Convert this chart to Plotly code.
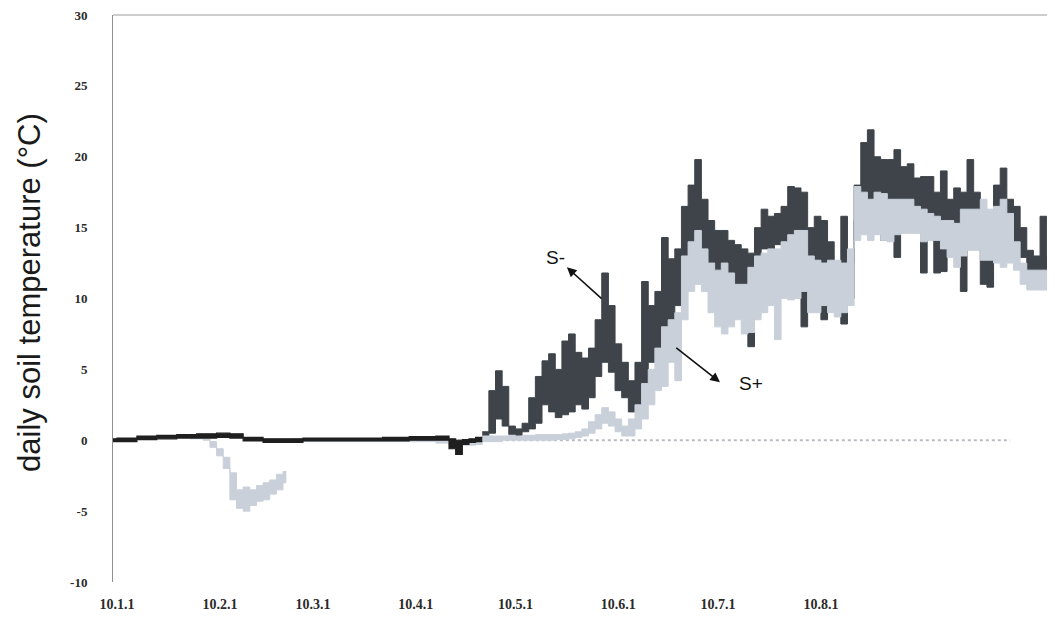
import pandas as pd
import plotly.graph_objects as go

BASE = pd.Timestamp("2010-01-01")

# ---- tick labels ----
tick_days = [0, 31, 59, 90, 120, 151, 181, 212]
tick_text = ["10.1.1", "10.2.1", "10.3.1", "10.4.1", "10.5.1", "10.6.1", "10.7.1", "10.8.1"]
y_ticks = [-10, -5, 0, 5, 10, 15, 20, 25, 30]

# ---- S- (no snow) : day offset, daily low, daily high ----
sm_day = [-2, 0, 6, 12, 18, 24, 30, 34, 38, 44, 50, 56, 64, 72, 80, 88, 96, 100, 102, 104, 106, 108,
          110, 112, 114, 116, 118, 120, 122, 124, 126, 128, 130, 132, 134, 136, 138, 140, 142, 144,
          146, 148, 150, 152, 154, 156, 158, 160, 162, 164, 166, 168, 170, 172, 174, 176, 178, 180,
          182, 184, 186, 188, 190, 192, 194, 196, 198, 200, 202, 204, 206, 208, 210, 212, 214, 216,
          218, 220, 222, 224, 226, 228, 230, 232, 234, 236, 238, 240, 242, 244, 246, 248, 250, 252,
          254, 256, 258, 260, 262, 264, 266, 268, 270, 272, 274, 276, 278, 280, 282]
sm_lo = [-0.1, -0.1, 0.05, 0.1, 0.15, 0.15, 0.2, 0.15, -0.05, -0.15, -0.15, -0.05, -0.05, -0.05, -0.05, 0.0, 0.0, -0.6, -1.0, -0.3, -0.15, -0.1,
         0.1, 0.5, 1.5, 1.0, 0.4, 0.3, 0.6, 0.8, 1.2, 2.5, 2.0, 1.6, 1.8, 2.0, 2.5, 2.2, 3.0, 4.5,
         5.5, 4.8, 3.5, 3.0, 2.0, 2.2, 4.0, 5.5, 6.5, 8.0, 8.5, 9.5, 13.0, 14.0, 14.5, 13.5, 12.5, 11.5,
         11.8, 11.5, 11.0, 10.8, 6.6, 13.0, 13.5, 13.5, 13.8, 14.0, 14.0, 14.5, 8.0, 13.0, 12.7, 8.5, 12.5, 11.0,
         8.2, 10.0, 15.5, 16.0, 17.0, 17.5, 14.1, 17.0, 12.9, 16.5, 16.5, 16.0, 11.8, 15.5, 11.8, 11.9, 15.5, 14.0,
         10.5, 16.0, 15.5, 11.0, 10.8, 15.5, 15.0, 12.9, 13.0, 12.9, 11.3, 11.3, 11.5, 11.3, 11.5]
sm_hi = [0.1, 0.15, 0.3, 0.35, 0.4, 0.45, 0.5, 0.45, 0.2, 0.1, 0.1, 0.15, 0.15, 0.15, 0.2, 0.25, 0.3, 0.1, 0.0, 0.05, 0.1, 0.2,
         0.6, 3.5, 4.9, 3.8, 1.0, 0.8, 1.2, 3.0, 4.5, 5.6, 6.1, 5.0, 7.0, 7.5, 6.2, 5.8, 6.5, 8.5,
         11.8, 9.5, 6.8, 5.5, 4.2, 5.5, 11.2, 9.5, 10.5, 14.3, 12.8, 13.5, 16.5, 18.0, 19.8, 17.0, 15.5, 14.8,
         14.8, 14.1, 13.8, 13.5, 13.2, 15.0, 16.3, 15.8, 16.0, 16.5, 17.9, 17.8, 17.5, 15.0, 15.8, 15.5, 14.0, 12.5,
         15.8, 12.5, 18.0, 21.0, 21.9, 20.0, 19.8, 19.8, 20.5, 19.3, 19.5, 18.5, 18.6, 18.6, 17.5, 19.0, 17.0, 17.8,
         17.5, 19.8, 17.5, 14.0, 13.5, 18.0, 19.2, 17.0, 16.5, 15.0, 13.4, 13.0, 15.8, 13.0, 12.8]

# ---- S+ (snow) : day offset, daily low, daily high ----
sp_day = [22, 26, 28, 30, 32, 34, 36, 38, 40, 42, 44, 46, 48, 50, 52, 60, 80, 96, 100, 104, 108,
          110, 112, 114, 116, 118, 120, 122, 124, 126, 128, 130, 132, 134, 136, 138, 140, 142, 144,
          146, 148, 150, 152, 154, 156, 158, 160, 162, 164, 166, 168, 170, 172, 174, 176, 178, 180,
          182, 184, 186, 188, 190, 192, 194, 196, 198, 200, 202, 204, 206, 208, 210, 212, 214, 216,
          218, 220, 222, 224, 226, 228, 230, 232, 234, 236, 238, 240, 242, 244, 246, 248, 250, 252,
          254, 256, 258, 260, 262, 264, 266, 268, 270, 272, 274, 276, 278, 280, 282]
sp_lo = [0.1, 0.0, -0.5, -1.1, -2.0, -4.2, -4.8, -5.0, -4.6, -4.3, -4.2, -3.8, -3.5, -3.0, -0.1, -0.1, -0.1, -0.2, -0.4, -0.35, -0.3,
         -0.1, -0.1, -0.1, 0.0, 0.0, 0.0, 0.0, 0.0, 0.0, 0.0, 0.0, 0.05, 0.05, 0.1, 0.2, 0.3, 0.5, 0.8,
         1.2, 1.0, 0.6, 0.3, 0.3, 0.8, 1.5, 2.5, 3.5, 3.8, 5.5, 4.2, 8.5, 10.5, 11.0, 10.5, 9.0, 8.0,
         7.5, 8.0, 8.5, 7.5, 7.6, 8.5, 9.0, 9.5, 7.1, 10.0, 9.9, 10.0, 10.5, 9.0, 9.0, 9.5, 9.0, 8.7,
         9.0, 9.5, 14.1, 14.5, 14.1, 14.5, 14.1, 14.0, 14.5, 14.6, 14.6, 14.6, 14.0, 14.1, 14.1, 13.5, 12.9, 12.2,
         13.0, 13.4, 13.4, 12.7, 12.7, 12.5, 12.2, 12.5, 12.0, 11.0, 10.6, 10.6, 10.6, 10.6, 10.6]
sp_hi = [0.35, 0.3, -0.1, -0.6, -1.2, -2.3, -3.5, -3.3, -3.5, -3.2, -3.0, -2.8, -2.4, -2.2, 0.1, 0.1, 0.1, 0.1, 0.0, 0.0, 0.1,
         0.3, 0.3, 0.3, 0.3, 0.35, 0.3, 0.35, 0.35, 0.4, 0.4, 0.4, 0.4, 0.45, 0.5, 0.6, 0.8, 1.3, 1.8,
         2.3, 2.0, 1.5, 1.0, 1.5, 2.5, 4.0, 5.0, 6.5, 8.0, 8.5, 9.0, 13.0, 14.0, 14.8, 13.5, 12.5, 12.0,
         12.5, 11.8, 11.0, 11.0, 12.2, 13.0, 13.2, 13.5, 13.5, 14.0, 14.5, 14.8, 14.8, 13.0, 12.7, 12.5, 12.7, 12.7,
         12.5, 13.5, 17.9, 17.5, 17.0, 17.5, 17.4, 17.0, 17.0, 17.0, 17.0, 16.5, 16.3, 16.0, 15.8, 15.5, 15.5, 15.3,
         16.3, 16.3, 16.3, 17.0, 16.3, 16.5, 17.0, 16.0, 14.0, 12.5, 12.0, 12.0, 12.0, 12.0, 12.0]

# ---- dotted reference line ----
ref_day = [90, 269]
ref_val = [0, 0]

# ---- labels ----
y_title = "daily soil temperature (°C)"
lab_minus = "S-"
lab_plus = "S+"


def to_date(days):
    return [BASE + pd.Timedelta(days=float(d)) for d in days]


def d1(x):
    return BASE + pd.Timedelta(days=float(x))


def band(fig, days, lo, hi, end_day, color, width=1.0):
    xs = to_date(list(days) + [end_day])
    ylo = list(lo) + [lo[-1]]
    yhi = list(hi) + [hi[-1]]
    fig.add_trace(go.Scatter(x=xs, y=yhi, mode="lines", line=dict(color=color, width=width, shape="hv"),
                             hoverinfo="skip", showlegend=False))
    fig.add_trace(go.Scatter(x=xs, y=ylo, mode="lines", line=dict(color=color, width=width, shape="hv"),
                             fill="tonexty", fillcolor=color, hoverinfo="skip", showlegend=False))


def pick(days, lo, hi, cond):
    idx = [i for i, d in enumerate(days) if cond(d)]
    return [days[i] for i in idx], [lo[i] for i in idx], [hi[i] for i in idx]


fig = go.Figure()

# reference dotted zero line
fig.add_trace(go.Scatter(x=to_date(ref_day), y=ref_val, mode="lines",
                         line=dict(color="#b9bcc0", width=2, dash="dot"), hoverinfo="skip", showlegend=False))

DARK = "#3e444a"
LIGHT = "#c9d0da"
BLACK = "#1f1f1f"

# S- growing season (underneath S+)
d, lo, hi = pick(sm_day, sm_lo, sm_hi, lambda v: v >= 110)
band(fig, d, lo, hi, 284, DARK)
# S+ winter dip segment and main segment
d, lo, hi = pick(sp_day, sp_lo, sp_hi, lambda v: v <= 50)
band(fig, d, lo, hi, 51, LIGHT)
d, lo, hi = pick(sp_day, sp_lo, sp_hi, lambda v: v >= 52)
band(fig, d, lo, hi, 284, LIGHT)
# S- winter (on top)
d, lo, hi = pick(sm_day, sm_lo, sm_hi, lambda v: v < 110)
band(fig, d, lo, hi, 110, BLACK, 1.2)

annotations = [
    dict(x=d1(135.5), y=12.2, ax=d1(146.4), ay=9.9, axref="x", ayref="y", xref="x", yref="y",
         text="", showarrow=True, arrowhead=2, arrowsize=1.2, arrowwidth=1.6, arrowcolor="#111"),
    dict(x=d1(132.2), y=12.9, xref="x", yref="y", text=lab_minus, showarrow=False,
         font=dict(family="Liberation Sans", size=19, color="#111")),
    dict(x=d1(181.6), y=4.1, ax=d1(168.0), ay=6.6, axref="x", ayref="y", xref="x", yref="y",
         text="", showarrow=True, arrowhead=2, arrowsize=1.2, arrowwidth=1.6, arrowcolor="#111"),
    dict(x=d1(191.0), y=4.0, xref="x", yref="y", text=lab_plus, showarrow=False,
         font=dict(family="Liberation Sans", size=19, color="#111")),
    dict(x=-0.088, y=0.51, xref="paper", yref="paper", text=y_title, textangle=-90, showarrow=False,
         xanchor="center", yanchor="middle",
         font=dict(family="Liberation Sans", size=31, color="#1a1a1a")),
]

# the page body adds an 8 px offset, so the figure is 8 px smaller and shifted
fig.update_layout(
    width=1047, height=620,
    margin=dict(l=105, r=0, t=7, b=46, autoexpand=False),
    paper_bgcolor="white", plot_bgcolor="white",
    showlegend=False,
    annotations=annotations,
    shapes=[dict(type="line", xref="paper", yref="paper", x0=0, x1=1, y0=1, y1=1,
                 line=dict(color="#9a9a9a", width=1))],
)

fig.update_xaxes(
    range=[d1(-1.2), d1(282.5)], automargin=False,
    tickvals=to_date(tick_days), ticktext=tick_text,
    showgrid=False, zeroline=False, showline=False, ticks="",
    ticklabelstandoff=12, ticklabeloverflow="allow",
    tickfont=dict(family="Liberation Serif", size=14, color="#2a2a2a", weight="bold"),
)
fig.update_yaxes(
    range=[-10, 30], tickvals=y_ticks, ticktext=[str(v) for v in y_ticks], automargin=False,
    showgrid=False, zeroline=False, showline=True, linecolor="#8f8f8f", linewidth=1, ticks="",
    ticklabelstandoff=22, ticklabeloverflow="allow",
    tickfont=dict(family="Liberation Serif", size=13, color="#2a2a2a", weight="bold"),
)

fig.write_html("out.html")
